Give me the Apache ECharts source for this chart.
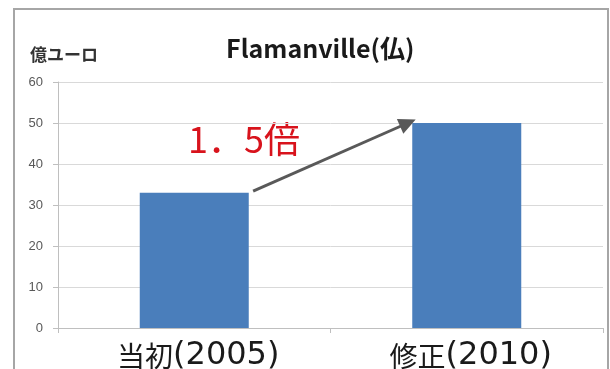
<!DOCTYPE html>
<html>
<head>
<meta charset="utf-8">
<script src="https://cdn.jsdelivr.net/npm/echarts@6/dist/echarts.min.js"></script>
<style>
  html, body { margin: 0; padding: 0; background: #ffffff; }
  #chart { width: 610px; height: 369px; }
</style>
</head>
<body>
<div id="chart"></div>
<script>
// Construction cost estimate for Flamanville (France), in 100 million euros
const categoryNames = ['当初', '修正'];
const categoryYears = ['2005', '2010'];
const costValues = [33, 50];
const yTicks = { min: 0, max: 60, interval: 10 };

// Growth arrow between the two bars, in axis units (x: category position, y: cost)
const arrowFrom = [0.216, 33.4];
const arrowTo = [0.784, 50];
const growthLabel = '1．5倍';

const categories = categoryNames.map((n, i) => n + '(' + categoryYears[i] + ')');

const chart = echarts.init(document.getElementById('chart'), null, { renderer: 'canvas' });

const jpFont = '"Noto Sans CJK JP", "Noto Sans", sans-serif';

chart.setOption({
  animation: false,
  backgroundColor: '#ffffff',
  title: {
    text: 'Flamanville(仏)',
    left: 221,
    top: 31,
    textStyle: { fontFamily: jpFont, fontSize: 25, fontWeight: 'bold', color: '#1a1a1a' }
  },
  grid: { left: 58, right: 7, top: 82, bottom: 41, outerBoundsMode: 'none', containLabel: false },
  xAxis: [
    {
      type: 'category',
      data: categories,
      axisLine: { lineStyle: { color: '#bfbfbf', width: 1 } },
      axisTick: { show: true, length: 5, lineStyle: { color: '#bfbfbf' } },
      axisLabel: {
        margin: 12,
        padding: [0, 0, 0, 8],
        formatter: (v) => {
          const k = v.indexOf('(');
          return '{k|' + v.slice(0, k) + '}{n|' + v.slice(k) + '}';
        },
        rich: {
          k: { fontFamily: jpFont, fontSize: 28, color: '#1a1a1a' },
          n: { fontFamily: '"DejaVu Sans", sans-serif', fontSize: 32, color: '#1a1a1a' }
        }
      }
    },
    {
      type: 'value',
      min: -0.5,
      max: 1.5,
      show: false
    }
  ],
  yAxis: {
    type: 'value',
    min: yTicks.min,
    max: yTicks.max,
    interval: yTicks.interval,
    name: '億ユーロ',
    nameLocation: 'end',
    nameGap: 19,
    nameTextStyle: { fontFamily: jpFont, fontSize: 17, fontWeight: 'bold', color: '#333333', align: 'left', padding: [0, 0, 0, -28] },
    axisLine: { show: true, onZero: false, lineStyle: { color: '#bfbfbf', width: 1 } },
    axisTick: { show: true, length: 5, lineStyle: { color: '#bfbfbf' } },
    axisLabel: { margin: 15, fontFamily: '"Liberation Sans", sans-serif', fontSize: 13, color: '#595959' },
    splitLine: { lineStyle: { color: '#d9d9d9', width: 1 } }
  },
  series: [
    {
      type: 'bar',
      data: costValues,
      barWidth: '40%',
      itemStyle: { color: '#4a7ebb' }
    },
    {
      type: 'scatter',
      xAxisIndex: 1,
      data: [],
      silent: true,
      markLine: {
        silent: true,
        symbol: ['none', 'triangle'],
        symbolSize: [16, 17],
        label: { show: false },
        lineStyle: { color: '#595959', width: 3, type: 'solid' },
        data: [[{ coord: arrowFrom }, { coord: arrowTo }]]
      }
    }
  ],
  graphic: [
    {
      type: 'rect',
      shape: { x: 14, y: 9, width: 594, height: 400 },
      style: { fill: 'none', stroke: '#a6a6a6', lineWidth: 2 },
      silent: true
    },
    {
      type: 'text',
      left: 188,
      top: 121,
      style: { text: growthLabel, fontFamily: jpFont, fontSize: 36, fill: '#d8131c' }
    }
  ]
});
</script>
</body>
</html>
